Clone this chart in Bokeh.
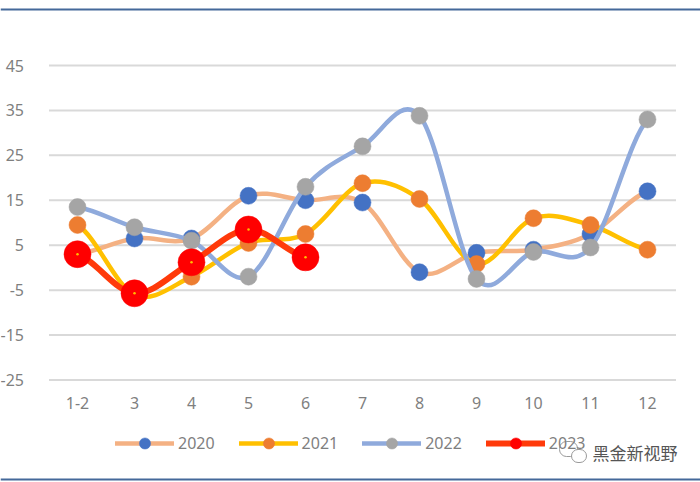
from bokeh.embed import file_html
from bokeh.resources import INLINE
from bokeh.plotting import figure
from bokeh.models import (Range1d, FixedTicker, Legend, LegendItem, Label, BoxAnnotation,
                          ColumnDataSource, LinearAxis)

months = ["1-2", "3", "4", "5", "6", "7", "8", "9", "10", "11", "12"]
y_ticks = [-25, -15, -5, 5, 15, 25, 35, 45]

v2020 = [3.0, 6.5, 6.5, 16.0, 15.0, 14.5, -1.0, 3.3, 4.0, 7.5, 17.0]
v2021 = [9.5, -6.0, -2.0, 5.5, 7.5, 18.8, 15.3, 0.8, 11.0, 9.5, 4.0]
v2022 = [13.5, 9.0, 6.0, -2.0, 18.0, 27.0, 33.8, -2.5, 3.5, 4.5, 33.0]
v2023 = [3.0, -5.7, 1.2, 8.5, 2.3]

FONT = "Noto Sans"
GREY = "#7F7F7F"
W, H = 700, 482
PX_X = 57.0
PX_Y = 4.493
X0_PX = 77.0     # canvas x of the first category
Y45_PX = 65.0    # canvas y of the top gridline

p = figure(width=W, height=H, output_backend="svg", toolbar_location=None,
           x_axis_location=None, y_axis_location=None,
           x_range=Range1d(-X0_PX / PX_X, (W - X0_PX) / PX_X),
           y_range=Range1d(45 - (H - Y45_PX) / PX_Y, 45 + Y45_PX / PX_Y),
           min_border=0)
p.outline_line_color = None
p.background_fill_color = "white"
p.grid.visible = False

p.segment(x0=[-0.5] * len(y_ticks), x1=[10.5] * len(y_ticks), y0=y_ticks, y1=y_ticks,
          line_color="#D9D9D9", line_width=2)

yax = LinearAxis(fixed_location=-0.5, ticker=FixedTicker(ticks=y_ticks),
                 major_label_overrides={t: str(t) for t in y_ticks}, major_label_standoff=19)
xax = LinearAxis(fixed_location=-25, ticker=FixedTicker(ticks=list(range(len(months)))),
                 major_label_overrides={i: m for i, m in enumerate(months)}, major_label_standoff=11)
for ax in (xax, yax):
    ax.axis_line_color = None
    ax.major_tick_line_color = None
    ax.minor_tick_line_color = None
    ax.major_label_text_font = FONT
    ax.major_label_text_font_size = "16px"
    ax.major_label_text_color = GREY
p.add_layout(yax, "left")
p.add_layout(xax, "below")


def smooth(vals):
    """Excel-style smoothed line: one cubic Bezier per pair of neighbouring values."""
    n = len(vals)
    d = dict(x0=[], y0=[], x1=[], y1=[], cx0=[], cy0=[], cx1=[], cy1=[])
    for i in range(n - 1):
        a = vals[max(i - 1, 0)]
        b, c = vals[i], vals[i + 1]
        e = vals[min(i + 2, n - 1)]
        d["x0"].append(i); d["y0"].append(b)
        d["x1"].append(i + 1); d["y1"].append(c)
        d["cx0"].append(i + 1 / 3); d["cy0"].append(b + (c - a) / 6)
        d["cx1"].append(i + 2 / 3); d["cy1"].append(c - (e - b) / 6)
    return ColumnDataSource(d)


series = [
    ("2020", v2020, "#F4B183", 4.5, "#4472C4", 17),
    ("2021", v2021, "#FFC000", 4.5, "#ED7D31", 17),
    ("2022", v2022, "#8FAADC", 4.5, "#A5A5A5", 17),
    ("2023", v2023, "#FF3A0A", 6, "#FF0000", 27),
]

items = []
for name, vals, lc, lw, mc, ms in series:
    r_line = p.bezier("x0", "y0", "x1", "y1", "cx0", "cy0", "cx1", "cy1", source=smooth(vals),
                      line_color=lc, line_width=lw, line_cap="round")
    xs = list(range(len(vals)))
    r_pts = p.scatter(xs, vals, size=ms, fill_color=mc, line_color=mc, line_width=0.5)
    if name == "2023":
        p.scatter(xs, vals, size=2.5, fill_color="#FFC000", line_color=None)
    items.append(LegendItem(label=name, renderers=[r_line, r_pts], index=0))

legend = Legend(items=items, orientation="horizontal", location=(115, 25),
                glyph_width=59, glyph_height=28, label_standoff=4, spacing=24,
                padding=0, margin=0, border_line_color=None, background_fill_alpha=0,
                label_text_font=FONT, label_text_font_size="16px", label_text_color=GREY,
                label_height=28)
p.add_layout(legend, "center")

# frame rules, top and bottom of the picture
for top, bottom in ((8, 10), (478, 480)):
    p.add_layout(BoxAnnotation(left=0, right=W, top=top, bottom=bottom,
                               left_units="canvas", right_units="canvas",
                               top_units="canvas", bottom_units="canvas",
                               fill_color="#44699A", fill_alpha=1, line_color=None, level="overlay"))

# watermark
for left, right, top, bottom in ((559, 577, 441, 456), (571, 586, 449, 462)):
    p.add_layout(BoxAnnotation(left=left, right=right, top=top, bottom=bottom,
                               left_units="canvas", right_units="canvas",
                               top_units="canvas", bottom_units="canvas",
                               fill_color="white", fill_alpha=1,
                               line_color="#9A9A9A", line_width=1, line_alpha=1,
                               border_radius=7, level="overlay"))
p.add_layout(Label(x=592, y=452, x_units="canvas", y_units="canvas", text="黑金新视野",
                   text_font="Noto Sans CJK SC", text_font_size="17px", text_color="#555555",
                   text_baseline="middle", level="overlay"))

open("out.html", "w").write(file_html(p, INLINE))
